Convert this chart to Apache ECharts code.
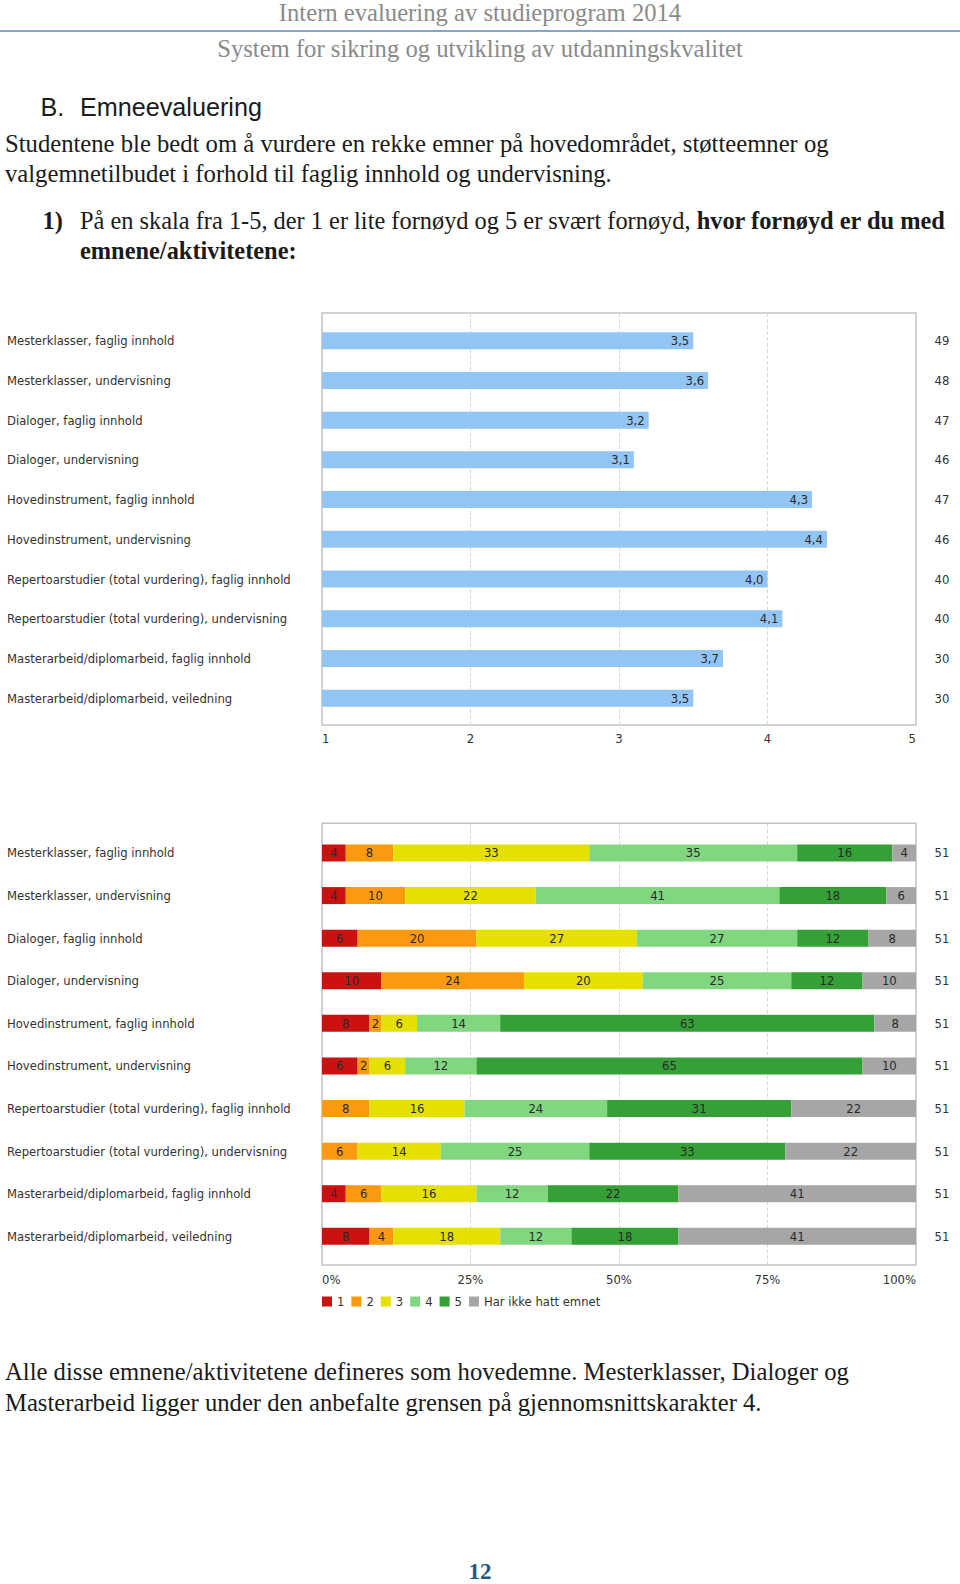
<!DOCTYPE html>
<html><head><meta charset="utf-8">
<script src="https://cdn.jsdelivr.net/npm/echarts@6/dist/echarts.min.js"></script>
<style>html,body{margin:0;padding:0;background:#fff}#c{width:960px;height:1584px}</style>
</head><body><div id="c"></div>
<script>
// ---------- data ----------
const categories = [
  'Mesterklasser, faglig innhold',
  'Mesterklasser, undervisning',
  'Dialoger, faglig innhold',
  'Dialoger, undervisning',
  'Hovedinstrument, faglig innhold',
  'Hovedinstrument, undervisning',
  'Repertoarstudier (total vurdering), faglig innhold',
  'Repertoarstudier (total vurdering), undervisning',
  'Masterarbeid/diplomarbeid, faglig innhold',
  'Masterarbeid/diplomarbeid, veiledning'
];
const meanScores = [3.5, 3.6, 3.2, 3.1, 4.3, 4.4, 4.0, 4.1, 3.7, 3.5];
const meanCounts = [49, 48, 47, 46, 47, 46, 40, 40, 30, 30];
const shareNames = ['1', '2', '3', '4', '5', 'Har ikke hatt emnet'];
const share1 = [4, 4, 6, 10, 8, 6, 0, 0, 4, 8];
const share2 = [8, 10, 20, 24, 2, 2, 8, 6, 6, 4];
const share3 = [33, 22, 27, 20, 6, 6, 16, 14, 16, 18];
const share4 = [35, 41, 27, 25, 14, 12, 24, 25, 12, 12];
const share5 = [16, 18, 12, 12, 63, 65, 31, 33, 22, 18];
const shareNone = [4, 6, 8, 10, 8, 10, 22, 22, 41, 41];
const shareCounts = [51, 51, 51, 51, 51, 51, 51, 51, 51, 51];
const shareColors = ['#CC1111', '#FB9A0E', '#E5E000', '#80D780', '#35A035', '#A6A6A6'];

// ---------- text ----------
const headerTop = 'Intern evaluering av studieprogram 2014';
const headerSub = 'System for sikring og utvikling av utdanningskvalitet';
const sectionLetter = 'B.';
const sectionTitle = 'Emneevaluering';
const intro1 = 'Studentene ble bedt om å vurdere en rekke emner på hovedområdet, støtteemner og';
const intro2 = 'valgemnetilbudet i forhold til faglig innhold og undervisning.';
const qNum = '1)';
const qNormal = 'På en skala fra 1-5, der 1 er lite fornøyd og 5 er svært fornøyd, ';
const qBold = 'hvor fornøyd er du med';
const qBold2 = 'emnene/aktivitetene:';
const outro1 = 'Alle disse emnene/aktivitetene defineres som hovedemne. Mesterklasser, Dialoger og';
const outro2 = 'Masterarbeid ligger under den anbefalte grensen på gjennomsnittskarakter 4.';
const pageNo = '12';

// ---------- font fitting ----------
const mctx = document.createElement('canvas').getContext('2d');
function w100(text, family, weight) { mctx.font = (weight || 'normal') + ' 100px ' + family; return mctx.measureText(text).width; }
function fit(text, family, weight, target) { return 100 * target / w100(text, family, weight); }

const SANS = '"DejaVu Sans Condensed", "DejaVu Sans"';
const SERIF = 'Liberation Serif';
const fs = fit('Repertoarstudier (total vurdering), faglig innhold', SANS, 'normal', 284);
const bodyFs = (fit(intro1, SERIF, 'normal', 833) + fit(intro2, SERIF, 'normal', 597) +
  fit(outro1, SERIF, 'normal', 842) + fit(outro2, SERIF, 'normal', 763)) / 4;
const qFs = 100 * 866 / (w100(qNormal, SERIF, 'normal') + w100(qBold, SERIF, 'bold'));
const headFs = (fit(headerTop, SERIF, 'normal', 408) + fit(headerSub, SERIF, 'normal', 519)) / 2;
const secFs = fit(sectionTitle, 'Liberation Sans', 'normal', 182);
const pageFs = fit(pageNo, SERIF, 'bold', 23);

const txt = (x, y, text, size, opts) => Object.assign({
  type: 'text', x: x, y: y, z: 10,
  style: Object.assign({ text: text, fontSize: size, fontFamily: SERIF, fill: '#1a1a1a', align: 'left', verticalAlign: 'middle' }, opts || {})
});

const chart = echarts.init(document.getElementById('c'), null, { renderer: 'svg' });
const labelColor = '#333';
const dashed = { lineStyle: { type: 'dashed', color: '#d8d8d8', width: 1 }, showMinLine: false, showMaxLine: false };

const stackSeries = [share1, share2, share3, share4, share5, shareNone].map((d, i) => ({
  name: shareNames[i], type: 'bar', stack: 'share', xAxisIndex: 3, yAxisIndex: 4,
  data: d, barWidth: 17, itemStyle: { color: shareColors[i] },
  label: { show: true, position: 'inside', color: '#2a2a2a', fontSize: fs, fontFamily: SANS,
    formatter: p => (p.value > 0 ? String(p.value) : '') },
  emphasis: { disabled: true }
}));

chart.setOption({
  animation: false,
  textStyle: { fontFamily: SANS },
  grid: [
    { left: 322, top: 313, width: 594, height: 412, show: true, borderColor: '#c4c4c4', borderWidth: 1.5, backgroundColor: 'transparent' },
    { left: 322, top: 320.8, width: 594, height: 397.3 },
    { left: 322, top: 823.3, width: 594, height: 441.7, show: true, borderColor: '#c4c4c4', borderWidth: 1.5, backgroundColor: 'transparent' },
    { left: 322, top: 831.7, width: 594, height: 425.9 }
  ],
  xAxis: [
    { gridIndex: 0, type: 'value', min: 1, max: 5, interval: 1, axisLine: { show: false }, axisTick: { show: false },
      splitLine: dashed, axisLabel: { margin: 7, color: labelColor, fontSize: fs, alignMinLabel: 'left', alignMaxLabel: 'right' } },
    { gridIndex: 1, type: 'value', min: 1, max: 5, show: false, splitLine: { show: false } },
    { gridIndex: 2, type: 'value', min: 0, max: 100, interval: 25, axisLine: { show: false }, axisTick: { show: false },
      splitLine: dashed, axisLabel: { margin: 8, color: labelColor, fontSize: fs, formatter: '{value}%', alignMinLabel: 'left', alignMaxLabel: 'right' } },
    { gridIndex: 3, type: 'value', min: 0, max: 100, show: false, splitLine: { show: false } }
  ],
  yAxis: [
    { gridIndex: 0, type: 'value', show: false, splitLine: { show: false } },
    { gridIndex: 1, type: 'category', data: categories, inverse: true, axisLine: { show: false }, axisTick: { show: false },
      axisLabel: { align: 'left', margin: 315, color: labelColor, fontSize: fs } },
    { gridIndex: 1, type: 'category', position: 'right', data: meanCounts.map(String), inverse: true, axisLine: { show: false }, axisTick: { show: false },
      axisLabel: { align: 'center', margin: 26, color: labelColor, fontSize: fs } },
    { gridIndex: 2, type: 'value', show: false, splitLine: { show: false } },
    { gridIndex: 3, type: 'category', data: categories, inverse: true, axisLine: { show: false }, axisTick: { show: false },
      axisLabel: { align: 'left', margin: 315, color: labelColor, fontSize: fs } },
    { gridIndex: 3, type: 'category', position: 'right', data: shareCounts.map(String), inverse: true, axisLine: { show: false }, axisTick: { show: false },
      axisLabel: { align: 'center', margin: 26, color: labelColor, fontSize: fs } }
  ],
  legend: {
    data: shareNames, left: 322, top: 1295, itemWidth: 10, itemHeight: 10, itemGap: 7, icon: 'rect',
    selectedMode: false, padding: 0, textStyle: { fontSize: fs, color: labelColor, fontFamily: SANS }
  },
  series: [
    { type: 'bar', xAxisIndex: 1, yAxisIndex: 1, data: meanScores, barWidth: 17, itemStyle: { color: '#92C5F4' },
      label: { show: true, position: 'insideRight', distance: 4, color: '#2a2a2a', fontSize: fs, fontFamily: SANS,
        formatter: p => p.value.toFixed(1).replace('.', ',') },
      emphasis: { disabled: true } }
  ].concat(stackSeries),
  graphic: [
    txt(480, 12, headerTop, headFs, { fill: '#8a8a8a', align: 'center' }),
    { type: 'line', z: 10, shape: { x1: 0, y1: 31, x2: 960, y2: 31 }, style: { stroke: '#5B86C0', lineWidth: 1.5 } },
    txt(480, 48, headerSub, headFs, { fill: '#8a8a8a', align: 'center' }),
    txt(40.5, 107, sectionLetter, secFs, { fontFamily: 'Liberation Sans' }),
    txt(80, 107, sectionTitle, secFs, { fontFamily: 'Liberation Sans' }),
    txt(5, 143.5, intro1, bodyFs),
    txt(5, 173, intro2, bodyFs),
    txt(42.5, 220, qNum, qFs, { fontWeight: 'bold' }),
    txt(80, 220, '{n|' + qNormal + '}{b|' + qBold + '}', qFs, {
      rich: { n: { fontSize: qFs, fontFamily: SERIF, fill: '#1a1a1a' }, b: { fontSize: qFs, fontFamily: SERIF, fontWeight: 'bold', fill: '#1a1a1a' } } }),
    txt(80, 250.5, qBold2, qFs, { fontWeight: 'bold' }),
    txt(5, 1371, outro1, bodyFs),
    txt(5, 1402.5, outro2, bodyFs),
    txt(480, 1571, pageNo, pageFs, { fontWeight: 'bold', fill: '#1F5B78', align: 'center' })
  ]
});
</script></body></html>
